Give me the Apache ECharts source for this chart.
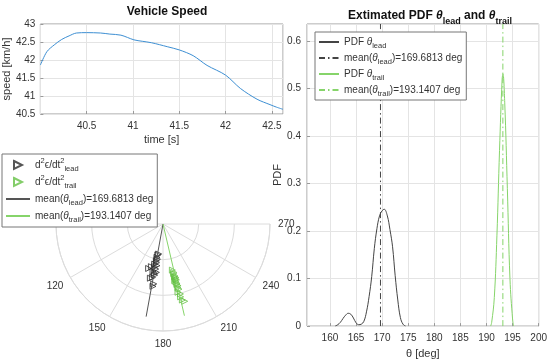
<!DOCTYPE html>
<html><head><meta charset="utf-8">
<script src="https://cdn.jsdelivr.net/npm/echarts@6/dist/echarts.min.js"></script>
<style>html,body{margin:0;padding:0;background:#fff}#c{width:550px;height:364px}</style>
</head><body><div id="c"></div>
<script>
// ---- Vehicle speed ----
const speedT = [40.0, 40.07, 40.15, 40.23, 40.31, 40.39, 40.5, 40.65, 40.75, 40.87, 41.01, 41.1, 41.2, 41.37, 41.5, 41.65, 41.8, 42.0, 42.16, 42.34, 42.48, 42.55, 42.62];
const speedV = [41.86, 42.23, 42.42, 42.57, 42.67, 42.75, 42.76, 42.75, 42.72, 42.69, 42.56, 42.52, 42.48, 42.37, 42.28, 42.12, 41.85, 41.58, 41.21, 40.91, 40.76, 40.69, 40.63];

// ---- Polar: d2e/dt2 samples (radius, angle deg) ----
const leadR     = [0.85, 0.95, 1.05, 1.15, 1.24, 1.18, 1.28, 1.36, 1.37, 1.45, 1.53, 1.70, 1.31, 1.56, 1.77, 0.88, 1.00, 1.10, 1.22, 1.40];
const leadTheta = [171.8, 169.8, 169.8, 168.3, 164.8, 171.8, 170.8, 168.1, 172.2, 170.8, 168.8, 171.2, 162.1, 166.9, 170.9, 170.5, 171.0, 170.5, 169.0, 170.0];
const trailR     = [1.32, 1.39, 1.49, 1.54, 1.61, 1.62, 1.71, 1.78, 1.88, 1.96, 2.02, 2.20, 2.25, 1.43, 1.52, 1.58, 1.66, 1.74, 1.83, 2.10];
const trailTheta = [191.5, 192.5, 192.8, 193.4, 193.5, 191.7, 193.3, 193.7, 193.8, 192.4, 194.0, 194.3, 195.7, 192.2, 192.4, 192.9, 192.6, 193.0, 193.2, 193.6];
const meanLead = 169.6813;
const meanTrail = 193.1407;
const meanLineR = 2.64;

// ---- Estimated PDFs ----
const pdfLeadX = [161, 161.5, 162, 162.5, 163, 163.5, 164, 164.5, 165, 165.5, 166, 166.5, 167, 167.5, 168, 168.5, 169, 169.5, 170, 170.4, 171, 171.5, 172, 172.5, 173, 173.5, 174, 174.5];
const pdfLeadY = [0, 0.003, 0.008, 0.016, 0.023, 0.027, 0.025, 0.017, 0.007, 0.003, 0.004, 0.010, 0.030, 0.062, 0.104, 0.163, 0.205, 0.232, 0.243, 0.246, 0.232, 0.203, 0.167, 0.106, 0.055, 0.018, 0.004, 0];
const pdfTrailX = [190.8, 191, 191.5, 192, 192.5, 193, 193.15, 193.5, 194, 194.5, 195, 195.2];
const pdfTrailY = [0, 0.008, 0.06, 0.19, 0.37, 0.52, 0.531, 0.47, 0.29, 0.10, 0.015, 0];
const pdfYMax = 0.636;
const pdfXMin = 155.6;

const zip = (a, b) => a.map((v, i) => [v, b[i]]);

const FONT = 'Liberation Sans, Arial, Helvetica, sans-serif';
const TXT = '#333';
const GRID = '#e4e4e4';
const BOX = '#9a9a9a';
const BLUE = '#3d8fd3';
const BLACK = '#2b2b2b';
const GREEN = '#64c043';
const GREEN_L = '#86d46a';

const richSmall = {
  sup: {fontSize: 7.5, lineHeight: 9, verticalAlign: 'top', fontFamily: FONT, color: TXT},
  sub: {fontSize: 7.5, lineHeight: 8, verticalAlign: 'bottom', fontFamily: FONT, color: TXT},
  th: {fontSize: 10, fontStyle: 'italic', fontFamily: FONT, color: TXT}
};
const labels = {
  leadPts: 'd{sup|2}ϵ/dt{sup|2}{sub|lead}',
  trailPts: 'd{sup|2}ϵ/dt{sup|2}{sub|trail}',
  leadMeanPolar: 'mean({th|θ}{sub|lead})=169.6813 deg',
  trailMeanPolar: 'mean({th|θ}{sub|trail})=193.1407 deg',
  pdfLead: 'PDF {th|θ}{sub|lead}',
  pdfLeadMean: 'mean({th|θ}{sub|lead})=169.6813 deg',
  pdfTrail: 'PDF {th|θ}{sub|trail}',
  pdfTrailMean: 'mean({th|θ}{sub|trail})=193.1407 deg'
};
const triIcon = 'path://M0,0L10,5L0,10Z';
const noSym = {opacity: 0};
const axisLbl = {color: TXT, fontSize: 10, fontFamily: FONT};
const nameStyle = {color: TXT, fontSize: 11, fontFamily: FONT};

const chart = echarts.init(document.getElementById('c'), null, {renderer: 'canvas'});
chart.setOption({
  animation: false,
  backgroundColor: '#fff',
  textStyle: {fontFamily: FONT},
  title: [
    {text: 'Vehicle Speed', left: 162, top: 1, textAlign: 'center',
     textStyle: {fontSize: 12, fontWeight: 'bold', color: '#111', fontFamily: FONT}},
    {text: 'Extimated PDF {b|θ}{s|lead} and {b|θ}{s|trail}', left: 425, top: 1, textAlign: 'center',
     textStyle: {fontSize: 12, fontWeight: 'bold', color: '#111', fontFamily: FONT, lineHeight: 20,
       rich: {b: {fontSize: 12, fontWeight: 'bold', fontStyle: 'italic', fontFamily: FONT, color: '#111'},
              s: {fontSize: 9, fontWeight: 'bold', lineHeight: 9, verticalAlign: 'bottom', fontFamily: FONT, color: '#111'}}}}
  ],
  legend: [
    {orient: 'vertical', left: 2, top: 154, padding: [3, 4, 3, 3], itemGap: 1, itemWidth: 24, itemHeight: 8,
     backgroundColor: '#fff', borderColor: '#777', borderWidth: 1, borderRadius: 0,
     data: [{name: 'leadPts', icon: triIcon}, {name: 'trailPts', icon: triIcon},
            {name: 'leadMeanPolar', itemStyle: noSym}, {name: 'trailMeanPolar', itemStyle: noSym}],
     formatter: n => labels[n],
     textStyle: {fontSize: 10, lineHeight: 16, color: TXT, fontFamily: FONT, rich: richSmall}},
    {orient: 'vertical', left: 315, top: 32, padding: [2, 4, 2, 3], itemGap: 0, itemWidth: 20, itemHeight: 8,
     backgroundColor: '#fff', borderColor: '#777', borderWidth: 1, borderRadius: 0,
     data: [{name: 'pdfLead', itemStyle: noSym}, {name: 'pdfLeadMean', itemStyle: noSym},
            {name: 'pdfTrail', itemStyle: noSym}, {name: 'pdfTrailMean', itemStyle: noSym}],
     formatter: n => labels[n],
     textStyle: {fontSize: 10, lineHeight: 16, color: TXT, fontFamily: FONT, rich: richSmall}}
  ],
  grid: [
    {left: 40, top: 24, width: 243, height: 90, show: true, borderColor: BOX, borderWidth: 1, backgroundColor: 'transparent'},
    {left: 307, top: 24, width: 234.5, height: 309.3, show: true, borderColor: BOX, borderWidth: 1, backgroundColor: 'transparent'}
  ],
  xAxis: [
    {type: 'value', gridIndex: 0, min: 40, max: 42.62, interval: 0.5,
     axisLine: {show: false}, axisTick: {show: true, inside: true, length: 3, lineStyle: {color: BOX}},
     axisLabel: Object.assign({showMinLabel: false, showMaxLabel: false, margin: 7}, axisLbl),
     splitLine: {show: true, lineStyle: {color: GRID}},
     name: 'time [s]', nameLocation: 'middle', nameGap: 20, nameTextStyle: nameStyle},
    {type: 'value', gridIndex: 1, min: pdfXMin, max: 200, splitNumber: 9,
     axisLine: {show: false}, axisTick: {show: true, inside: true, length: 3, lineStyle: {color: BOX}},
     axisLabel: Object.assign({showMinLabel: false, margin: 7}, axisLbl),
     splitLine: {show: true, lineStyle: {color: GRID}},
     name: 'θ [deg]', nameLocation: 'middle', nameGap: 17, nameTextStyle: nameStyle}
  ],
  yAxis: [
    {type: 'value', gridIndex: 0, min: 40.5, max: 43, interval: 0.5,
     axisLine: {show: false}, axisTick: {show: true, inside: true, length: 3, lineStyle: {color: BOX}},
     axisLabel: Object.assign({margin: 5}, axisLbl),
     splitLine: {show: true, lineStyle: {color: GRID}},
     name: 'speed [km/h]', nameLocation: 'middle', nameGap: 22, nameRotate: 90, nameTextStyle: nameStyle},
    {type: 'value', gridIndex: 1, min: 0, max: pdfYMax, interval: 0.1,
     axisLine: {show: false}, axisTick: {show: true, inside: true, length: 3, lineStyle: {color: BOX}},
     axisLabel: Object.assign({showMaxLabel: false, margin: 6}, axisLbl),
     splitLine: {show: true, lineStyle: {color: GRID}},
     name: 'PDF', nameLocation: 'middle', nameGap: 19, nameRotate: 90, nameTextStyle: nameStyle}
  ],
  polar: {center: [163, 224], radius: 107},
  angleAxis: {type: 'value', min: 90, max: 270, interval: 30, startAngle: 180, endAngle: 360, clockwise: false,
    axisLine: {show: true, lineStyle: {color: '#dcdcdc'}}, axisTick: {show: false},
    axisLabel: Object.assign({margin: 8}, axisLbl),
    splitLine: {show: true, lineStyle: {color: '#dcdcdc'}}},
  radiusAxis: {type: 'value', min: 0, max: 3, interval: 1,
    axisLine: {show: false}, axisTick: {show: false}, axisLabel: {show: false},
    splitLine: {show: true, lineStyle: {color: '#dcdcdc'}}},
  series: [
    {name: 'speed', type: 'line', xAxisIndex: 0, yAxisIndex: 0, data: zip(speedT, speedV),
     symbol: 'none', smooth: 0.3, lineStyle: {color: BLUE, width: 1}, itemStyle: {color: BLUE}},
    {name: 'leadPts', type: 'scatter', coordinateSystem: 'polar', data: zip(leadR, leadTheta),
     symbol: 'triangle', symbolSize: 6, symbolRotate: -90,
     itemStyle: {color: 'rgba(255,255,255,0)', borderColor: BLACK, borderWidth: 1}},
    {name: 'trailPts', type: 'scatter', coordinateSystem: 'polar', data: zip(trailR, trailTheta),
     symbol: 'triangle', symbolSize: 6, symbolRotate: -90,
     itemStyle: {color: 'rgba(255,255,255,0)', borderColor: GREEN, borderWidth: 1}},
    {name: 'leadMeanPolar', type: 'line', coordinateSystem: 'polar', data: [[0, meanLead], [meanLineR, meanLead]],
     symbol: 'none', lineStyle: {color: '#555', width: 1}, itemStyle: {color: '#555'}},
    {name: 'trailMeanPolar', type: 'line', coordinateSystem: 'polar', data: [[0, meanTrail], [meanLineR, meanTrail]],
     symbol: 'none', lineStyle: {color: GREEN_L, width: 1}, itemStyle: {color: GREEN_L}},
    {name: 'pdfLead', type: 'line', xAxisIndex: 1, yAxisIndex: 1, data: zip(pdfLeadX, pdfLeadY),
     symbol: 'none', smooth: 0.4, lineStyle: {color: '#444', width: 1}, itemStyle: {color: '#444'}},
    {name: 'pdfLeadMean', type: 'line', xAxisIndex: 1, yAxisIndex: 1, data: [[meanLead, 0], [meanLead, pdfYMax]],
     symbol: 'none', lineStyle: {color: '#444', width: 1, type: [6, 3, 1.5, 3]}, itemStyle: {color: '#444'}},
    {name: 'pdfTrail', type: 'line', xAxisIndex: 1, yAxisIndex: 1, data: zip(pdfTrailX, pdfTrailY),
     symbol: 'none', smooth: 0.4, lineStyle: {color: GREEN_L, width: 1}, itemStyle: {color: GREEN_L}},
    {name: 'pdfTrailMean', type: 'line', xAxisIndex: 1, yAxisIndex: 1, data: [[meanTrail, 0], [meanTrail, pdfYMax]],
     symbol: 'none', lineStyle: {color: GREEN_L, width: 1, type: [6, 3, 1.5, 3]}, itemStyle: {color: GREEN_L}}
  ]
});
</script></body></html>
